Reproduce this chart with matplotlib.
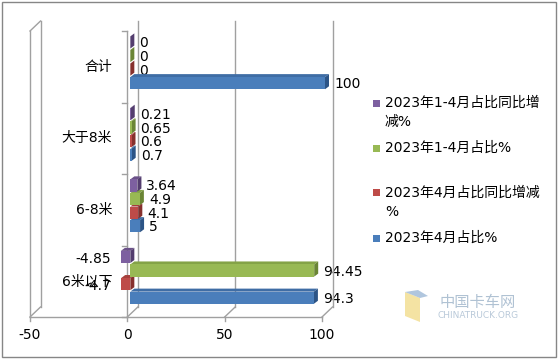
import matplotlib
matplotlib.use('Agg')
import matplotlib.pyplot as plt
from matplotlib.patches import Rectangle, Polygon
from matplotlib.lines import Line2D

plt.rcParams['font.family'] = ['DejaVu Sans', 'Noto Sans CJK SC']

# ---------------- data ----------------
categories = ['6米以下', '6-8米', '大于8米', '合计']
series_names = ['2023年4月占比%', '2023年4月占比同比增减%',
                '2023年1-4月占比%', '2023年1-4月占比同比增减%']
apr_share = [94.3, 5, 0.7, 100]
apr_yoy = [-4.7, 4.1, 0.6, 0]
jan_apr_share = [94.45, 4.9, 0.65, 0]
jan_apr_yoy = [-4.85, 3.64, 0.21, 0]
value_labels = [['94.3', '5', '0.7', '100'],
                ['-4.7', '4.1', '0.6', '0'],
                ['94.45', '4.9', '0.65', '0'],
                ['-4.85', '3.64', '0.21', '0']]
x_ticks = [-50, 0, 50, 100]
legend_texts = ['2023年1-4月占比同比增\n减%', '2023年1-4月占比%',
                '2023年4月占比同比增减\n%', '2023年4月占比%']

series = [apr_share, apr_yoy, jan_apr_share, jan_apr_yoy]
front_c = ['#4A7EBB', '#BE4B48', '#98B954', '#7D60A0']
top_c = ['#3F6DA5', '#A53F3C', '#84A347', '#6B5189']
side_c = ['#2C5486', '#86302D', '#6A8535', '#533D6E']
centers = [0.27, 0.46, 0.65, 0.84]
bar_h = 0.17

W, H = 559, 360
fig = plt.figure(figsize=(W / 100, H / 100), dpi=100)
ax = fig.add_axes([30 / W, 43 / H, 292 / W, 286 / H])
ax.set_xlim(-50, 100)
ax.set_ylim(0, 4)
ax.axis('off')

GRID = '#A0A0A0'
BX, BY = 10.5, 10   # back wall offset (px)
SX = 3              # bar shift (px)
DX, DY = 4, 3       # bar depth (px)


def fpt(x, y, dx=0, dy=0):
    p = ax.transData.transform((x, y))
    return ((p[0] + dx) / W, (p[1] + dy) / H)


def fline(p1, p2, color=GRID, lw=1.0, z=1):
    fig.add_artist(Line2D([p1[0], p2[0]], [p1[1], p2[1]], color=color, lw=lw,
                          zorder=z, transform=fig.transFigure))


# back wall gridlines
for t in x_ticks:
    fline(fpt(t, 0, BX, BY), fpt(t, 4, BX, BY))
    fline(fpt(t, 0), fpt(t, 0, BX, BY))
    fline(fpt(t, 0), fpt(t, 0, 0, -4))
fline(fpt(-50, 0), fpt(100, 0))
fline(fpt(-50, 0), fpt(-50, 4))
fline(fpt(-50, 4), fpt(-50, 4, BX, BY))
fline(fpt(0, 0), fpt(0, 4))
for i in range(5):
    fline(fpt(0, i), fpt(0, i, -5, 0))

# bars
for k in range(4):
    for i in range(4):
        v = series[k][i]
        yc = i + centers[k]
        y0, y1 = yc - bar_h / 2, yc + bar_h / 2
        lo, hi = min(0, v), max(0, v)
        top = [fpt(lo, y1, SX), fpt(hi, y1, SX), fpt(hi, y1, SX + DX, DY), fpt(lo, y1, SX + DX, DY)]
        fig.add_artist(Polygon(top, closed=True, facecolor=top_c[k], edgecolor='none',
                               transform=fig.transFigure, zorder=3))
        side = [fpt(hi, y0, SX), fpt(hi, y1, SX), fpt(hi, y1, SX + DX, DY), fpt(hi, y0, SX + DX, DY)]
        fig.add_artist(Polygon(side, closed=True, facecolor=side_c[k], edgecolor='none',
                               transform=fig.transFigure, zorder=3))
        fr = [fpt(lo, y0, SX), fpt(hi, y0, SX), fpt(hi, y1, SX), fpt(lo, y1, SX)]
        fig.add_artist(Polygon(fr, closed=True, facecolor=front_c[k], edgecolor='none',
                               transform=fig.transFigure, zorder=3.5))
        if v < 0:
            ax.annotate(value_labels[k][i], (v, yc), xytext=(-7, -2), textcoords='offset pixels',
                        ha='right', va='center', fontsize=10, color='black', zorder=5)
        else:
            ax.annotate(value_labels[k][i], (v, yc), xytext=(12, -1), textcoords='offset pixels',
                        ha='left', va='center', fontsize=10, color='black', zorder=5)

# category labels
for i, c in enumerate(categories):
    ax.annotate(c, (0, i + 0.5), xytext=(-15, 0), textcoords='offset pixels',
                ha='right', va='center', fontsize=10)

# x tick labels
for t in x_ticks:
    ax.annotate(str(t), (t, 0), xytext=(0, -18), textcoords='offset pixels',
                ha='center', va='center', fontsize=10)

# legend (manual)
leg_colors = [front_c[3], front_c[2], front_c[1], front_c[0]]
leg_y = [103, 148, 193, 238]
for txt, col, yy in zip(legend_texts, leg_colors, leg_y):
    fig.add_artist(Rectangle((373 / W, 1 - (yy + 3.5) / H), 7 / W, 7 / H,
                             facecolor=col, edgecolor='none', transform=fig.transFigure))
    fig.text(385 / W, 1 - (yy - 7) / H, txt, ha='left', va='top', fontsize=10,
             linespacing=1.45)

# watermark
fig.text(478 / W, 1 - 302 / H, '中国卡车网', ha='center', va='center', fontsize=11,
         color='#9DB3C9', alpha=0.8, family=['Noto Sans CJK SC'])
fig.text(478 / W, 1 - 316 / H, 'CHINATRUCK.ORG', ha='center', va='center', fontsize=6.5,
         color='#A8BCD0', alpha=0.8)
fig.add_artist(Polygon([(405 / W, 1 - 292 / H), (420 / W, 1 - 298 / H), (420 / W, 1 - 322 / H),
                        (405 / W, 1 - 316 / H)], closed=True, facecolor='#F2DC8C', edgecolor='none',
                       alpha=0.8, transform=fig.transFigure))
fig.add_artist(Polygon([(405 / W, 1 - 292 / H), (418 / W, 1 - 290 / H), (428 / W, 1 - 296 / H),
                        (420 / W, 1 - 298 / H)], closed=True, facecolor='#9DB8D6', edgecolor='none',
                       alpha=0.8, transform=fig.transFigure))

# outer border
fig.add_artist(Rectangle((2 / W, 3 / H), 554 / W, 355 / H, facecolor='none',
                         edgecolor='#868686', lw=1, transform=fig.transFigure))

fig.savefig('out.png', dpi=100)
